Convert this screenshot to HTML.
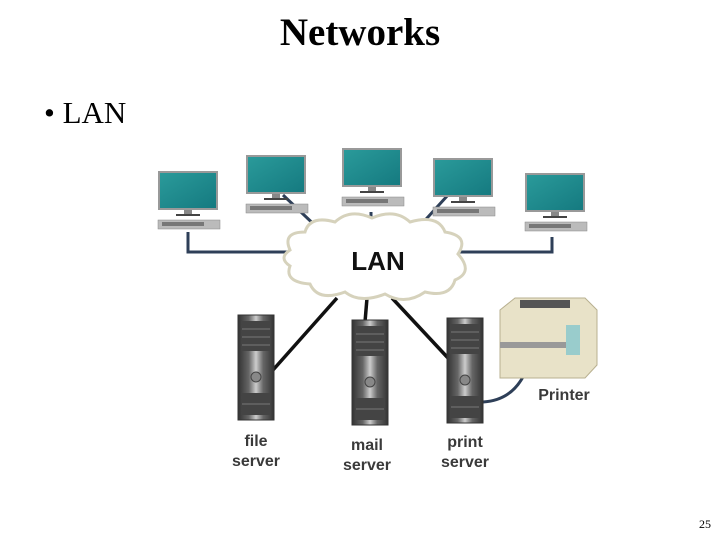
<!DOCTYPE html>
<html><head><style>
body{margin:0;width:720px;height:540px;background:#fff;overflow:hidden;position:relative;font-family:"Liberation Serif",serif}
.t{position:absolute;left:0;width:720px;top:10px;text-align:center;font-size:39px;font-weight:bold}
.b{position:absolute;left:44px;top:95px;font-size:31px}
.n{position:absolute;left:699px;top:517px;font-size:12px}
svg{position:absolute;left:0;top:0}
</style></head><body>
<div class="t">Networks</div>
<div class="b">• LAN</div>
<div class="n">25</div>
<svg width="720" height="540" font-family="Liberation Sans, sans-serif">
<defs>
<linearGradient id="s" x1="0" y1="0" x2="1" y2="1"><stop offset="0" stop-color="#2a9a9a"/><stop offset="1" stop-color="#157a80"/></linearGradient>
<linearGradient id="tw" x1="0" x2="1"><stop offset="0" stop-color="#333"/><stop offset=".3" stop-color="#666"/><stop offset=".5" stop-color="#ccc"/><stop offset=".7" stop-color="#666"/><stop offset="1" stop-color="#333"/></linearGradient>
<g id="mon"><rect x="0" y="0" width="60" height="39" fill="#999"/><rect x="2" y="2" width="56" height="35" fill="url(#s)"/><rect x="26" y="39" width="8" height="4" fill="#888"/><rect x="18" y="43" width="24" height="2" fill="#444"/><rect x="0" y="49" width="62" height="9" fill="#bbb" stroke="#888" stroke-width=".5"/><rect x="4" y="51" width="42" height="4" fill="#777"/></g>
<g id="srv"><rect x="0" y="0" width="36" height="105" fill="url(#tw)" stroke="#333"/><rect x="4" y="6" width="28" height="30" fill="#444"/><line x1="4" y1="14" x2="32" y2="14" stroke="#777"/><line x1="4" y1="22" x2="32" y2="22" stroke="#777"/><line x1="4" y1="30" x2="32" y2="30" stroke="#777"/><circle cx="18" cy="62" r="5" fill="#888" stroke="#444"/><rect x="4" y="78" width="28" height="22" fill="#444"/><line x1="4" y1="89" x2="32" y2="89" stroke="#777"/></g>
</defs>
<g stroke="#2e3f58" stroke-width="3" fill="none">
<polyline points="188,232 188,252 295,252"/><polyline points="552,237 552,252 452,252"/>
<line x1="283" y1="195" x2="323" y2="233"/><line x1="371" y1="212" x2="371" y2="228"/><line x1="448" y1="195" x2="418" y2="228"/>
<path d="M483,402 Q515,400 527,368"/>
</g>
<g stroke="#111" stroke-width="3.5"><line x1="337" y1="298" x2="273" y2="370"/><line x1="367" y1="298" x2="365" y2="322"/><line x1="392" y1="298" x2="448" y2="358"/></g>
<path d="M290,250 Q282,232 305,232 Q310,215 335,222 Q350,208 372,218 Q395,208 410,222 Q438,214 445,232 Q470,236 458,254 Q474,272 455,280 Q450,298 425,292 Q405,306 385,294 Q360,304 345,292 Q318,302 310,284 Q284,282 290,266 Q278,258 290,250Z" fill="#fff" stroke="#d6d2bc" stroke-width="3"/>
<text x="378" y="270" text-anchor="middle" font-size="26" font-weight="bold" fill="#111">LAN</text>
<use href="#mon" x="158" y="171"/><use href="#mon" x="246" y="155"/><use href="#mon" x="342" y="148"/><use href="#mon" x="433" y="158"/><use href="#mon" x="525" y="173"/>
<use href="#srv" x="238" y="315"/><use href="#srv" x="352" y="320"/><use href="#srv" x="447" y="318"/>
<g><path d="M500,310 L515,298 L585,298 L597,310 L597,365 L585,378 L500,378Z" fill="#e8e2c8" stroke="#b8b090"/><rect x="520" y="300" width="50" height="8" fill="#555"/><rect x="500" y="342" width="80" height="6" fill="#999"/><rect x="566" y="325" width="14" height="30" fill="#9cc"/></g>
<g font-size="16" font-weight="bold" fill="#3a3a3a" text-anchor="middle">
<text x="256" y="446">file</text><text x="256" y="466">server</text>
<text x="367" y="450">mail</text><text x="367" y="470">server</text>
<text x="465" y="447">print</text><text x="465" y="467">server</text>
<text x="564" y="400">Printer</text></g>
</svg>
</body></html>
